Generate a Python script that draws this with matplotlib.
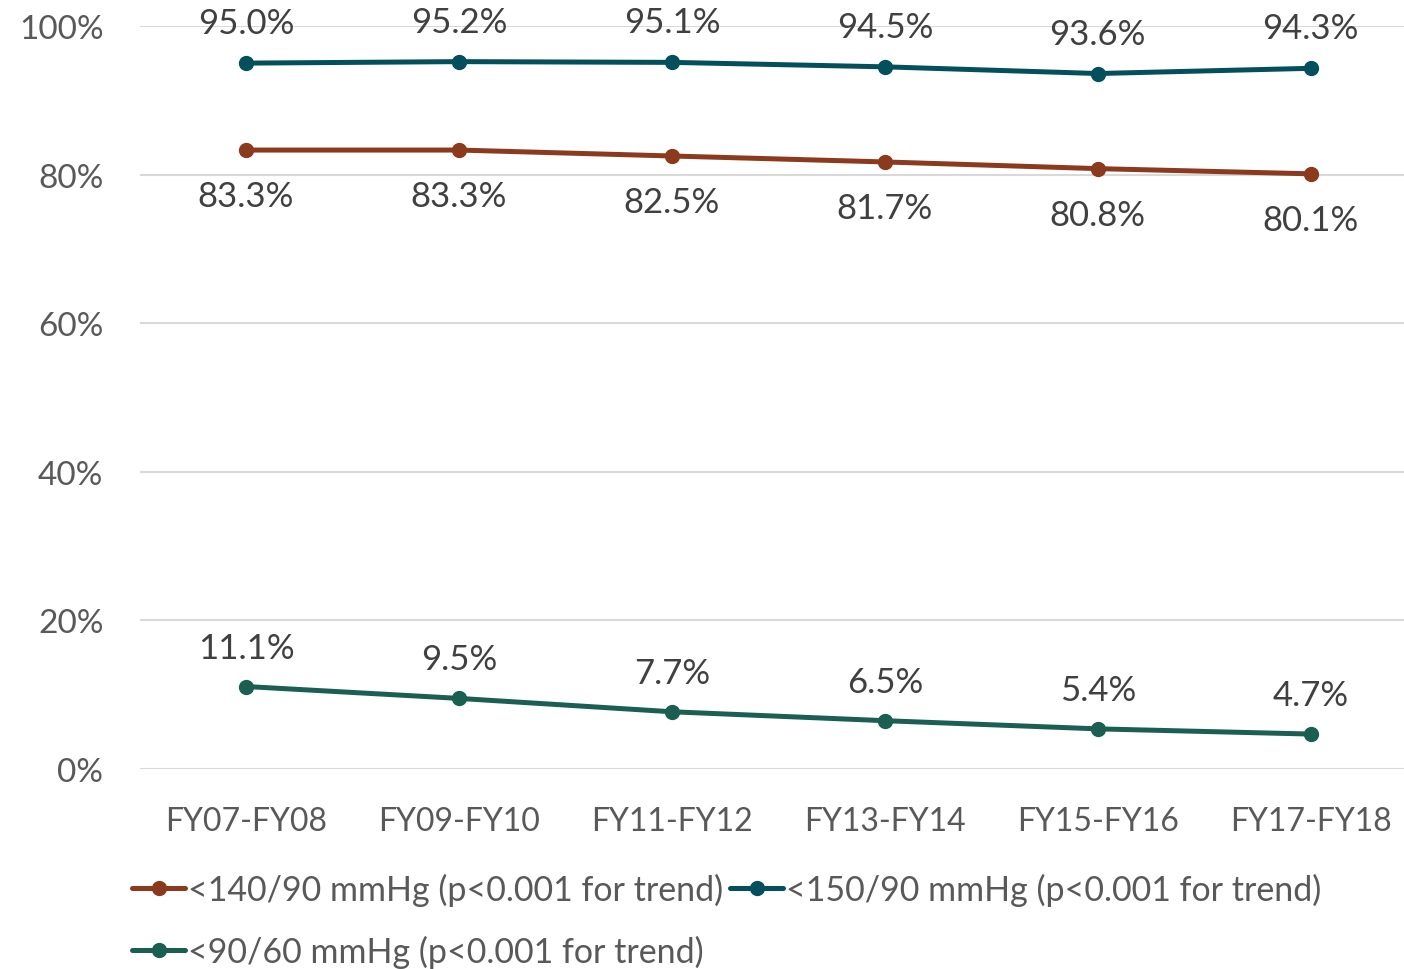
import matplotlib.pyplot as plt
from matplotlib.ticker import FuncFormatter

periods = ["FY07-FY08", "FY09-FY10", "FY11-FY12", "FY13-FY14", "FY15-FY16", "FY17-FY18"]
under_140_90 = [83.3, 83.3, 82.5, 81.7, 80.8, 80.1]
under_150_90 = [95.0, 95.2, 95.1, 94.5, 93.6, 94.3]
under_90_60 = [11.1, 9.5, 7.7, 6.5, 5.4, 4.7]

# label, values, colour, label offset in pixels (above > 0, below < 0)
series = [
    ("<140/90 mmHg (p<0.001 for trend)", under_140_90, "#8b3a1e", -46),
    ("<150/90 mmHg (p<0.001 for trend)", under_150_90, "#03505c", 40),
    ("<90/60 mmHg (p<0.001 for trend)", under_90_60, "#1a5f52", 39),
]

plt.rcParams["font.family"] = ["Lato", "DejaVu Sans"]

fig = plt.figure(figsize=(14.04, 9.70), dpi=100)
ax = fig.add_axes([0.0994, 0.2062, 0.910, 0.766])

x = list(range(len(periods)))
lines = []
for label, values, color, offset in series:
    (line,) = ax.plot(x, values, color=color, linewidth=3.6, marker="o", markersize=10,
                      label=label, solid_capstyle="round")
    lines.append(line)
    for xi, v in zip(x, values):
        ax.annotate(f"{v:.1f}%", (xi, v), xytext=(0, offset), textcoords="offset pixels",
                    ha="center", va="center", fontsize=25, color="#404040")

ax.set_xlim(-0.5, len(periods) - 0.5)
ax.set_ylim(0, 100)
ax.set_yticks([0, 20, 40, 60, 80, 100])
ax.yaxis.set_major_formatter(FuncFormatter(lambda v, _: f"{v:.0f}%"))
ax.set_xticks(x)
ax.set_xticklabels(periods)
ax.tick_params(axis="both", length=0, labelcolor="#595959")
ax.tick_params(axis="x", pad=27, labelsize=23)
ax.tick_params(axis="y", pad=26, labelsize=24)
ax.grid(axis="y", color="#d9d9d9", linewidth=1.5)
ax.set_axisbelow(True)
for spine in ax.spines.values():
    spine.set_visible(False)

# legend fills column-wise, so order entries to read row by row
order = [0, 2, 1]
fig.legend([lines[i] for i in order], [series[i][0] for i in order],
           loc="lower left", bbox_to_anchor=(0.0845, -0.013), ncol=2, frameon=False,
           fontsize=24.5, labelcolor="#595959", handlelength=1.55, handletextpad=0.1,
           columnspacing=0.2, labelspacing=0.85, borderaxespad=0)

fig.savefig("out.png", dpi=100)
